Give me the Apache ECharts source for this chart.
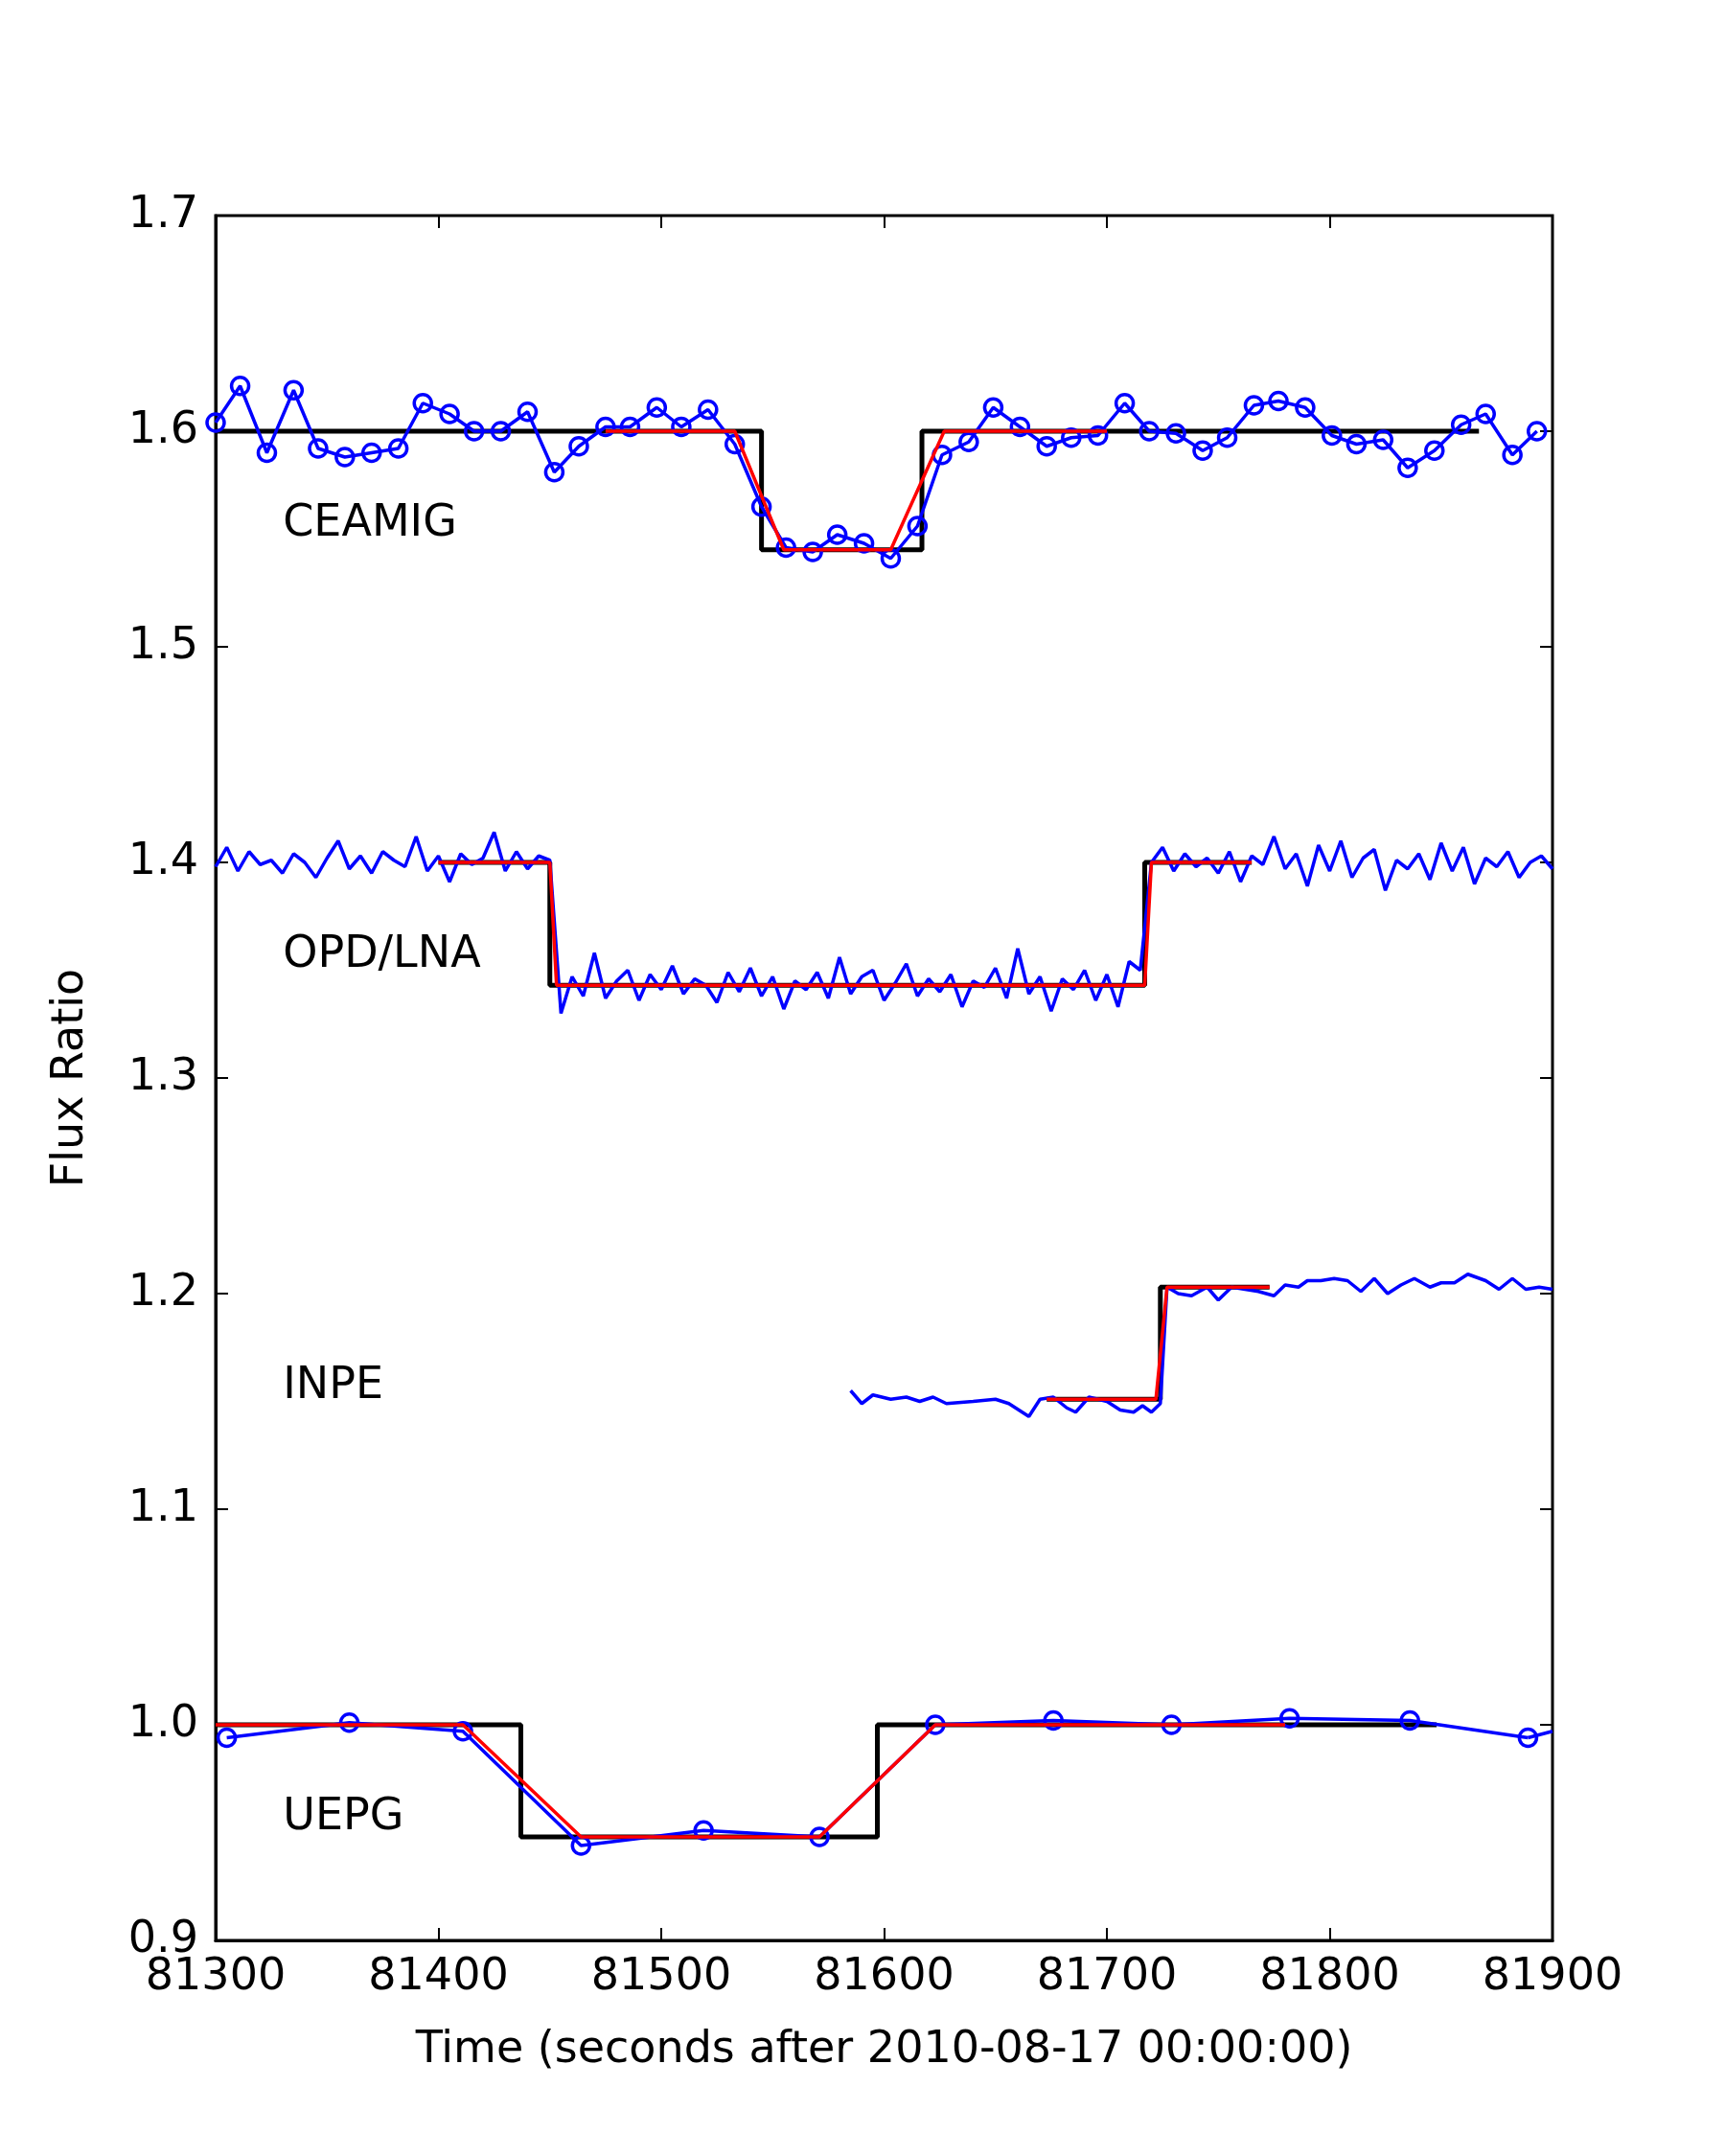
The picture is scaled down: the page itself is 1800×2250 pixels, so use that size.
<!DOCTYPE html>
<html>
<head>
<meta charset="utf-8">
<script src="https://cdn.jsdelivr.net/npm/echarts@6/dist/echarts.min.js"></script>
<style>html,body{margin:0;background:#fff}#chart{width:1800px;height:2250px}</style>
</head>
<body>
<div id="chart"></div>
<script>
// CEAMIG light curve (time, flux)
var ceamigT = [81300,81311,81323,81335,81346,81358,81370,81382,81393,81405,81416,81428,81440,81452,81463,81475,81486,81498,81509,81521,81533,81545,81556,81568,81579,81591,81603,81615,81626,81638,81649,81661,81673,81684,81696,81708,81719,81731,81743,81754,81766,81777,81789,81801,81812,81824,81835,81847,81859,81870,81882,81893];
var ceamigF = [1.604,1.621,1.590,1.619,1.592,1.588,1.590,1.592,1.613,1.608,1.600,1.600,1.609,1.581,1.593,1.602,1.602,1.611,1.602,1.610,1.594,1.565,1.546,1.544,1.552,1.548,1.541,1.556,1.589,1.595,1.611,1.602,1.593,1.597,1.598,1.613,1.600,1.599,1.591,1.597,1.612,1.614,1.611,1.598,1.594,1.596,1.583,1.591,1.603,1.608,1.589,1.600];
var ceamigBox = [[81300,1.6],[81545,1.6],[81545,1.545],[81617,1.545],[81617,1.6],[81867,1.6]];
var ceamigFit = [[81475,1.6],[81533,1.6],[81555,1.545],[81603,1.545],[81627,1.6],[81700,1.6]];

// OPD/LNA, sampled every 5 s from 81300
var opdStart = 81300, opdStep = 5;
var opdF = [1.398,1.407,1.396,1.405,1.399,1.401,1.395,1.404,1.400,1.393,1.402,1.410,1.397,1.403,1.395,1.405,1.401,1.398,1.412,1.396,1.403,1.391,1.404,1.399,1.402,1.414,1.396,1.405,1.397,1.403,1.401,
  1.330,1.347,1.338,1.358,1.337,1.345,1.350,1.336,1.348,1.341,1.352,1.339,1.346,1.343,1.335,1.349,1.340,1.351,1.338,1.347,1.332,1.345,1.341,1.349,1.337,1.356,1.339,1.347,1.350,1.336,1.344,1.353,1.338,1.346,1.340,1.348,1.333,1.345,1.342,1.351,1.337,1.360,1.339,1.347,1.331,1.346,1.341,1.350,1.336,1.348,1.333,1.354,1.350,
  1.400,1.407,1.396,1.404,1.398,1.402,1.395,1.405,1.391,1.403,1.399,1.412,1.397,1.404,1.389,1.408,1.396,1.410,1.393,1.402,1.406,1.387,1.401,1.397,1.404,1.392,1.409,1.396,1.407,1.390,1.402,1.398,1.405,1.393,1.400,1.403,1.397];
var opdBox = [[81400,1.4],[81450,1.4],[81450,1.343],[81717,1.343],[81717,1.4],[81765,1.4]];
var opdFit = [[81400,1.4],[81450,1.4],[81453,1.343],[81717,1.343],[81720,1.4],[81765,1.4]];

// INPE
var inpeT = [81585,81590,81595,81603,81610,81616,81622,81628,81640,81650,81656,81665,81670,81676,81682,81686,81692,81700,81706,81712,81716,81720,81724,81727,81732,81738,81745,81750,81756,81762,81768,81775,81780,81786,81790,81796,81802,81808,81814,81820,81826,81832,81838,81845,81850,81856,81862,81870,81876,81882,81888,81894,81900];
var inpeF = [1.155,1.149,1.153,1.151,1.152,1.150,1.152,1.149,1.150,1.151,1.149,1.143,1.151,1.152,1.147,1.145,1.152,1.150,1.146,1.145,1.148,1.145,1.149,1.203,1.200,1.199,1.203,1.197,1.203,1.202,1.201,1.199,1.204,1.203,1.206,1.206,1.207,1.206,1.201,1.207,1.200,1.204,1.207,1.203,1.205,1.205,1.209,1.206,1.202,1.207,1.202,1.203,1.202];
var inpeBox = [[81673,1.151],[81724,1.151],[81724,1.203],[81773,1.203]];
var inpeFit = [[81673,1.151],[81722,1.151],[81727,1.203],[81773,1.203]];

// UEPG
var uepgT = [81305,81360,81411,81464,81519,81571,81623,81676,81729,81782,81836,81889,81900];
var uepgF = [0.994,1.001,0.997,0.944,0.951,0.948,1.000,1.002,1.000,1.003,1.002,0.994,0.997];
var uepgBox = [[81300,1.0],[81437,1.0],[81437,0.948],[81597,0.948],[81597,1.0],[81848,1.0]];
var uepgFit = [[81300,1.0],[81411,1.0],[81464,0.948],[81571,0.948],[81623,1.0],[81780,1.0]];

var labels = [['CEAMIG',81330,1.557],['OPD/LNA',81330,1.357],['INPE',81330,1.157],['UEPG',81330,0.957]];

function zip(t, f) { return t.map(function (x, i) { return [x, f[i]]; }); }
var opdData = opdF.map(function (v, i) { return [opdStart + opdStep * i, v]; });

var font = 'DejaVu Sans';
var blueLine = { color: '#0000ff', width: 3.5 };
function boxS(d) { return { type: 'line', data: d, symbol: 'none', lineStyle: { color: '#000', width: 5 }, z: 2, silent: true }; }
function fitS(d) { return { type: 'line', data: d, symbol: 'none', lineStyle: { color: '#ff0000', width: 3.5 }, z: 4, silent: true }; }
function obsS(d, circles) {
  return { type: 'line', data: d, lineStyle: blueLine, z: 3, silent: true,
    symbol: circles ? 'circle' : 'none', symbolSize: 18, showAllSymbol: true,
    itemStyle: { color: 'rgba(0,0,0,0)', borderColor: '#0000ff', borderWidth: 3.5 } };
}

var tickStyle = { inside: true, length: 13, lineStyle: { color: '#000', width: 2 } };
var chart = echarts.init(document.getElementById('chart'));
chart.setOption({
  animation: false,
  backgroundColor: '#fff',
  grid: { left: 225, right: 180, top: 225, bottom: 225, show: true, borderColor: '#000', borderWidth: 3 },
  xAxis: [{
    type: 'value', min: 81300, max: 81900, interval: 100,
    name: 'Time (seconds after 2010-08-17 00:00:00)', nameLocation: 'middle', nameGap: 92,
    nameTextStyle: { fontFamily: font, fontSize: 46, color: '#000' },
    axisLine: { lineStyle: { color: '#000', width: 3 } }, axisTick: tickStyle,
    axisLabel: { fontFamily: font, fontSize: 46, color: '#000', margin: 16, formatter: function (v) { return String(v); } },
    splitLine: { show: false }
  }, {
    type: 'value', position: 'top', min: 81300, max: 81900, interval: 100,
    axisLine: { show: false }, axisTick: tickStyle, axisLabel: { show: false }, splitLine: { show: false }
  }],
  yAxis: [{
    type: 'value', min: 0.9, max: 1.7, interval: 0.1,
    name: 'Flux Ratio', nameLocation: 'middle', nameGap: 128,
    nameTextStyle: { fontFamily: font, fontSize: 46, color: '#000' },
    axisLine: { lineStyle: { color: '#000', width: 3 } }, axisTick: tickStyle,
    axisLabel: { fontFamily: font, fontSize: 46, color: '#000', margin: 18, formatter: function (v) { return v.toFixed(1); } },
    splitLine: { show: false }
  }, {
    type: 'value', position: 'right', min: 0.9, max: 1.7, interval: 0.1,
    axisLine: { show: false }, axisTick: tickStyle, axisLabel: { show: false }, splitLine: { show: false }
  }],
  series: [
    boxS(ceamigBox), obsS(zip(ceamigT, ceamigF), true), fitS(ceamigFit),
    boxS(opdBox), obsS(opdData, false), fitS(opdFit),
    boxS(inpeBox), obsS(zip(inpeT, inpeF), false), fitS(inpeFit),
    boxS(uepgBox), obsS(zip(uepgT, uepgF).slice(0, 12), true), obsS(zip(uepgT, uepgF).slice(11), false), fitS(uepgFit),
    {
      type: 'scatter', symbolSize: 1, silent: true, z: 5,
      itemStyle: { color: 'rgba(0,0,0,0)', opacity: 1 },
      data: labels.map(function (l) { return { value: [l[1], l[2]], name: l[0] }; }),
      label: { show: true, position: 'right', distance: 0, formatter: '{b}', fontFamily: font, fontSize: 46, color: '#000000', opacity: 1 }
    }
  ]
});
</script>
</body>
</html>
